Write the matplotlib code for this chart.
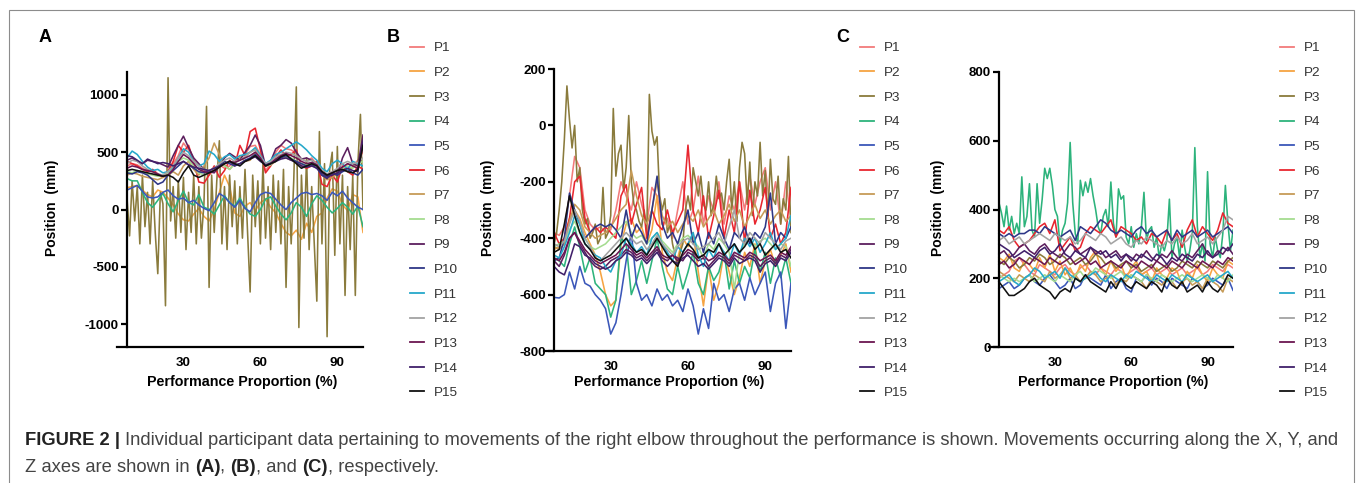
import numpy as np
import matplotlib
matplotlib.use("Agg")
import matplotlib.pyplot as plt
from matplotlib.lines import Line2D
from matplotlib.patches import Rectangle

plt.rcParams['font.family'] = ['Liberation Sans', 'DejaVu Sans']
plt.rcParams['axes.unicode_minus'] = False

# ---------------- data ----------------
labels = ["P%d" % i for i in range(1, 16)]
colors = ["#F27B7B", "#F6A442", "#8A7B3C", "#2DB37C", "#3B57B9", "#E8262F", "#C69B57",
          "#A5DC90", "#5C1F5E", "#2E3787", "#25A8CA", "#A3A3A3", "#6B1651", "#40206A", "#111111"]

x_ticks = [30, 60, 90]
a_yticks = [-1000, -500, 0, 500, 1000]
b_yticks = [-800, -600, -400, -200, 0, 200]
c_yticks = [0, 200, 400, 600, 800]

# Panel A (X axis), x = 8..100
a_p1 = [380,400,390,360,340,330,300,290,340,400,470,580,520,430,390,330,300,350,390,360,380,420,450,480,550,560,480,340,400,500,560,530,520,490,440,420,450,390,330,300,280,330,360,400,380,430,500]
a_p2 = [190,200,210,170,130,110,170,150,100,40,-40,-90,-100,-40,10,-60,-100,0,150,300,200,-30,-60,30,60,-10,60,90,20,-30,-120,-200,-230,-180,-260,-120,-200,-60,-30,100,180,160,40,-10,130,110,-200]
a_p3 = [100,-230,250,-100,200,-300,300,-150,150,-300,
        250,-200,-560,150,50,-840,1150,-100,200,-250,
        250,-200,280,-350,150,-200,300,-300,200,-250,
        50,900,-680,300,-200,250,600,-300,200,-350,
        300,-150,250,-300,200,-250,350,-200,-720,300,
        -150,250,-300,400,-250,200,-350,300,-200,250,
        -300,350,-680,200,-300,250,1070,-1030,300,-250,
        450,-350,200,-300,-800,680,-300,400,-1110,350,
        500,-400,550,-300,300,-750,200,-350,300,-750,
        400,830,0]
a_p4 = [270,250,250,150,60,20,80,140,50,-20,80,160,60,40,130,20,0,-40,40,120,60,30,100,20,-40,-60,0,90,110,30,-40,-90,-30,60,20,-60,50,120,80,20,-30,10,60,20,-40,30,-150]
a_p5 = [170,190,210,160,110,100,110,150,170,120,90,100,60,80,40,10,-10,60,140,110,60,20,80,10,-20,60,130,150,140,90,40,0,60,100,140,150,130,140,120,80,150,120,160,100,60,20,0]
a_p6 = [420,400,380,350,330,350,310,280,330,420,560,500,560,420,240,230,300,380,280,340,430,380,560,470,680,710,520,320,380,460,520,470,480,520,380,360,380,420,220,200,300,240,380,330,300,380,350]
a_p7 = [300,320,310,290,280,270,260,280,300,330,300,380,420,350,300,380,450,580,480,390,350,400,460,420,430,500,460,380,390,420,470,450,430,420,400,380,400,380,300,260,280,310,350,330,370,400,420]
a_p8 = [330,320,340,330,310,300,290,300,320,370,420,450,430,380,320,300,330,360,400,380,350,400,440,450,500,530,470,380,390,440,480,460,450,420,400,390,400,380,330,300,320,340,360,380,360,400,420]
a_p9 = [430,450,420,400,430,420,410,390,370,470,560,640,540,450,400,350,330,320,380,450,490,460,430,500,560,650,560,380,420,530,560,610,580,500,440,450,430,390,300,270,320,300,450,540,400,380,650]
a_p10 = [320,310,330,320,300,260,220,240,300,340,380,420,390,360,330,320,340,360,380,420,400,380,400,430,450,480,440,400,410,430,450,470,440,420,400,380,390,360,300,280,320,300,330,350,320,300,350]
a_p11 = [450,510,480,420,370,340,350,320,330,370,450,530,500,420,380,400,510,480,420,460,480,440,470,480,500,540,470,400,430,480,500,530,560,590,560,520,470,430,360,330,400,430,400,350,420,400,380]
a_p12 = [400,430,420,380,350,330,310,300,330,380,450,500,470,420,380,350,340,360,400,430,450,420,430,460,500,520,460,400,420,460,480,500,490,470,440,420,430,400,340,310,330,360,400,420,400,410,450]
a_p13 = [360,380,370,350,340,330,310,290,300,350,420,480,450,400,350,330,320,340,370,400,420,410,430,450,470,500,450,380,400,440,470,490,470,450,420,400,410,390,330,300,320,340,370,400,380,360,550]
a_p14 = [470,460,430,400,440,420,400,410,400,380,400,420,390,370,360,350,340,360,380,400,420,390,400,420,440,460,420,390,400,420,440,450,430,410,380,370,380,360,320,290,300,320,340,360,340,330,600]
a_p15 = [340,350,340,330,320,310,300,290,300,280,240,320,380,300,280,300,320,340,370,400,420,400,380,420,440,470,430,380,400,420,460,480,440,400,360,380,400,380,330,300,320,340,350,330,320,350,560]

# Panel B (Y axis)
b_p1 = [-380,-390,-360,-250,-110,-150,-300,-350,-370,-360,-380,-370,-300,-200,-250,-300,-200,-280,-350,-220,-250,-350,-330,-400,-300,-200,-350,-300,-180,-350,-250,-300,-200,-350,-250,-300,-200,-300,-180,-280,-200,-150,-300,-200,-350,-200,-330]
b_p2 = [-440,-430,-400,-330,-300,-330,-380,-420,-460,-520,-600,-640,-620,-420,-350,-330,-380,-360,-420,-370,-250,-450,-520,-550,-470,-400,-430,-380,-520,-640,-500,-620,-560,-450,-520,-600,-540,-450,-500,-420,-560,-480,-440,-500,-460,-420,-520]
b_p3 = [-420,-380,-300,-200,-50,140,20,-80,0,-200,
        -150,-300,-350,-330,-400,-380,-350,-420,-400,-220,
        -400,-380,-320,60,-180,-100,-70,-230,-150,35,
        -200,-280,-300,-340,-360,-300,-380,110,-20,-70,
        -40,-250,-300,-260,-380,-350,-420,-460,-500,-450,
        -420,-300,-250,-300,-150,-200,-250,-180,-280,-300,
        -200,-320,-280,-180,-260,-240,-300,-200,-120,-300,
        -200,-340,-150,-60,-100,-280,-130,-320,-200,-250,
        -60,-250,-160,-330,-120,-260,-280,-180,-350,-260,
        -300,-110,-380]
b_p4 = [-470,-480,-500,-420,-360,-430,-520,-470,-560,-580,-600,-680,-620,-400,-420,-600,-550,-480,-560,-480,-400,-500,-580,-600,-500,-580,-520,-450,-560,-600,-500,-550,-520,-450,-580,-480,-560,-500,-540,-440,-520,-450,-560,-470,-540,-470,-560]
b_p5 = [-610,-612,-600,-520,-580,-500,-560,-570,-600,-620,-650,-740,-700,-600,-480,-380,-560,-620,-600,-640,-580,-620,-600,-640,-620,-660,-580,-640,-740,-650,-720,-560,-620,-600,-660,-580,-560,-620,-540,-600,-560,-520,-660,-560,-520,-720,-560]
b_p6 = [-380,-420,-400,-330,-200,-180,-330,-380,-360,-380,-360,-380,-400,-250,-210,-350,-280,-220,-400,-300,-350,-370,-300,-380,-340,-300,-70,-300,-380,-250,-400,-320,-230,-400,-300,-380,-200,-420,-230,-350,-300,-220,-400,-350,-420,-380,-220]
b_p7 = [-430,-440,-420,-340,-280,-300,-360,-380,-400,-390,-380,-360,-330,-300,-280,-160,-250,-320,-350,-300,-200,-320,-360,-340,-380,-350,-320,-340,-300,-360,-330,-300,-350,-320,-280,-340,-300,-360,-320,-280,-330,-300,-350,-320,-300,-340,-320]
b_p8 = [-430,-420,-410,-370,-340,-380,-400,-430,-440,-430,-420,-400,-380,-360,-340,-380,-400,-390,-420,-400,-380,-410,-430,-450,-420,-400,-390,-410,-430,-470,-420,-440,-400,-420,-450,-580,-450,-420,-400,-430,-410,-400,-420,-440,-420,-430,-500]
b_p9 = [-480,-500,-460,-400,-380,-420,-450,-480,-500,-510,-500,-480,-470,-460,-440,-450,-470,-460,-480,-460,-440,-470,-480,-460,-470,-480,-450,-460,-480,-470,-500,-480,-460,-470,-490,-460,-470,-480,-460,-470,-500,-480,-470,-490,-460,-470,-440]
b_p10 = [-480,-470,-400,-240,-300,-350,-400,-380,-360,-350,-360,-350,-370,-400,-300,-400,-350,-380,-420,-300,-180,-350,-400,-380,-420,-360,-300,-420,-380,-450,-380,-420,-350,-400,-440,-380,-400,-360,-420,-380,-400,-360,-240,-420,-380,-400,-360]
b_p11 = [-460,-470,-430,-380,-320,-350,-420,-440,-460,-470,-500,-520,-480,-460,-400,-420,-450,-430,-460,-400,-380,-420,-450,-480,-430,-450,-420,-380,-460,-500,-440,-470,-420,-450,-480,-420,-460,-400,-430,-400,-450,-420,-380,-440,-420,-400,-320]
b_p12 = [-420,-430,-410,-350,-300,-340,-400,-430,-470,-480,-460,-440,-420,-400,-380,-400,-420,-410,-440,-420,-390,-420,-440,-460,-430,-410,-400,-420,-440,-430,-420,-400,-380,-420,-360,-300,-400,-420,-380,-400,-420,-380,-400,-420,-440,-410,-400]
b_p13 = [-470,-480,-450,-400,-380,-410,-440,-460,-480,-490,-480,-470,-460,-440,-420,-440,-460,-450,-470,-450,-430,-460,-470,-460,-480,-460,-440,-450,-470,-460,-480,-470,-450,-460,-480,-450,-460,-470,-450,-460,-480,-470,-460,-480,-450,-460,-430]
b_p14 = [-500,-520,-530,-480,-420,-430,-460,-470,-490,-500,-510,-500,-480,-470,-450,-460,-480,-470,-490,-470,-450,-480,-500,-480,-490,-470,-460,-480,-500,-490,-510,-490,-470,-480,-500,-470,-490,-480,-470,-480,-520,-490,-480,-500,-470,-480,-450]
b_p15 = [-450,-440,-350,-250,-320,-380,-420,-440,-470,-480,-470,-460,-440,-420,-400,-430,-450,-440,-460,-430,-400,-430,-460,-480,-500,-450,-420,-440,-470,-460,-440,-450,-420,-460,-440,-420,-450,-430,-400,-440,-420,-460,-440,-420,-450,-440,-470]

# Panel C (Z axis)
c_p1 = [200,210,220,250,260,240,220,210,240,230,220,210,230,240,220,210,230,240,220,210,230,220,210,230,220,210,220,230,210,220,230,210,220,230,210,220,230,210,220,230,210,220,240,230,220,240,230]
c_p2 = [260,250,270,230,220,250,240,220,260,230,270,220,250,210,230,200,240,220,260,280,230,210,250,220,240,200,230,250,210,220,190,230,210,200,230,220,180,220,200,240,210,190,230,210,200,250,240]
c_p3 = [250,240,260,250,230,240,260,250,270,260,240,250,270,260,240,250,260,240,250,270,260,240,250,230,240,250,230,240,220,230,240,220,230,240,220,230,250,240,230,250,240,230,250,240,230,250,260]
c_p4 = [420,390,350,410,340,380,330,360,330,495,
        350,380,475,340,320,475,360,430,520,490,
        520,470,400,380,300,340,360,420,595,420,
        330,300,485,440,480,450,490,440,400,350,
        330,380,400,350,480,360,320,460,430,440,
        320,300,350,290,330,300,350,450,310,340,
        350,290,320,260,300,280,310,430,260,300,
        320,260,340,290,250,280,330,580,350,260,
        300,250,510,300,260,320,280,260,330,470,
        360,280,340]
c_p5 = [170,180,190,170,180,200,210,190,180,200,210,190,170,180,200,170,180,210,200,190,180,210,170,190,200,170,160,200,190,210,180,200,190,170,200,190,180,170,200,190,170,180,200,190,180,200,165]
c_p6 = [340,330,350,310,290,300,310,330,350,360,330,370,280,300,320,280,290,330,350,340,330,350,370,320,350,340,330,310,320,300,330,320,300,340,310,330,290,340,370,320,350,330,310,340,390,360,350]
c_p7 = [220,210,200,190,210,200,190,210,200,190,220,200,210,230,200,210,190,200,220,210,190,200,210,180,200,190,210,200,190,170,200,190,180,200,190,170,190,200,180,190,170,200,190,180,160,200,190]
c_p8 = [210,200,190,200,190,200,210,190,200,210,200,190,210,200,190,210,220,200,210,230,220,210,200,210,220,200,210,200,190,210,200,190,210,200,190,200,210,200,190,200,210,200,190,210,200,190,210]
c_p9 = [270,280,260,270,290,300,280,270,290,300,280,270,260,280,300,290,270,280,290,270,280,260,270,280,260,270,250,270,260,280,260,250,270,260,280,260,250,270,260,280,300,270,260,280,270,290,270]
c_p10 = [330,320,330,320,330,330,340,340,330,350,340,330,320,330,340,310,350,340,330,350,370,360,340,330,340,330,320,340,350,330,340,320,330,340,310,340,320,330,340,320,330,340,320,330,340,350,330]
c_p11 = [190,200,210,190,180,200,210,230,220,200,210,220,200,230,210,200,190,200,210,220,200,190,210,200,190,210,200,220,210,200,190,210,200,190,210,200,190,210,200,190,200,210,190,200,210,220,200]
c_p12 = [310,320,300,310,320,300,310,320,330,320,310,330,320,310,320,300,310,330,320,310,330,320,300,310,320,300,290,310,300,320,310,300,290,310,300,320,300,310,330,300,310,320,300,320,340,380,370]
c_p13 = [240,250,230,240,260,250,240,260,250,240,260,250,240,250,260,240,250,260,240,250,230,240,250,240,230,250,240,230,250,240,230,250,240,230,250,240,230,250,240,230,250,240,230,250,240,260,250]
c_p14 = [300,290,280,260,270,280,270,260,280,290,270,280,300,270,260,280,270,260,290,280,270,280,260,270,250,270,260,250,270,260,250,270,260,240,260,250,270,260,250,270,260,280,260,270,290,280,300]
c_p15 = [190,170,150,150,160,170,190,200,180,170,160,140,160,170,160,200,190,210,190,180,170,160,190,170,200,180,170,190,180,170,190,180,160,200,180,170,190,160,170,180,160,190,170,160,180,210,200]

panel_a = [a_p1, a_p2, a_p3, a_p4, a_p5, a_p6, a_p7, a_p8, a_p9, a_p10, a_p11, a_p12, a_p13, a_p14, a_p15]
panel_b = [b_p1, b_p2, b_p3, b_p4, b_p5, b_p6, b_p7, b_p8, b_p9, b_p10, b_p11, b_p12, b_p13, b_p14, b_p15]
panel_c = [c_p1, c_p2, c_p3, c_p4, c_p5, c_p6, c_p7, c_p8, c_p9, c_p10, c_p11, c_p12, c_p13, c_p14, c_p15]

# ---------------- figure ----------------
W, H = 1357, 483
fig = plt.figure(figsize=(W / 100, H / 100), dpi=100)
fig.patch.set_facecolor("white")

def fx(px):
    return px / W

def fy(py):
    return 1 - py / H

def make_axes(left, top, right, bottom, series, ylim, yticks):
    ax = fig.add_axes([fx(left), fy(bottom), (right - left) / W, (bottom - top) / H])
    for vals, col in zip(series, colors):
        xs = np.linspace(8, 100, len(vals))
        ax.plot(xs, vals, color=col, lw=1.15, solid_joinstyle="round")
    ax.set_xlim(4.1, 100)
    ax.set_ylim(*ylim)
    ax.set_yticks(yticks)
    ax.set_xticks(x_ticks)
    for s in ("top", "right"):
        ax.spines[s].set_visible(False)
    ax.spines["left"].set_position(("data", 8))
    for s in ("left", "bottom"):
        ax.spines[s].set_linewidth(1.6)
    ax.tick_params(axis="y", length=4.5, width=1.6, pad=1.5, labelsize=9.6)
    ax.tick_params(axis="x", length=0, pad=7, labelsize=9.6)
    for lab in ax.get_xticklabels() + ax.get_yticklabels():
        lab.set_fontweight("bold")
    ax.patch.set_alpha(0)
    return ax

axA = make_axes(117, 72, 363, 347, panel_a, (-1200, 1200), a_yticks)
axB = make_axes(544, 69, 791, 351, panel_b, (-800, 200), b_yticks)
axC = make_axes(989, 72, 1233, 347, panel_c, (0, 800), c_yticks)

# axis labels
for xl, yl, xc in ((52, 208, 242), (488, 208, 669), (938, 208, 1113)):
    fig.text(fx(xl), fy(yl), "Position  (mm)", rotation=90, ha="center", va="center",
             fontsize=10, fontweight="bold")
    fig.text(fx(xc), fy(382), "Performance Proportion (%)", ha="center", va="center",
             fontsize=10.3, fontweight="bold")

# panel letters
for letter, lx in (("A", 45), ("B", 393), ("C", 843)):
    fig.text(fx(lx), fy(38), letter, ha="center", va="center", fontsize=13, fontweight="bold")

# legends
handles = [Line2D([0], [0], color=c, lw=1.3) for c in colors]
for lx in (410, 860, 1280):
    fig.legend(handles, labels, loc="upper left", bbox_to_anchor=(fx(lx), fy(42)),
               bbox_transform=fig.transFigure, frameon=False, fontsize=9.7,
               handlelength=1.04, handletextpad=0.74, labelspacing=0.905,
               borderpad=0, borderaxespad=0, labelcolor="#333333")

# frame
fig.patches.append(Rectangle((fx(9), -0.05), fx(1354) - fx(9), fy(10) + 0.05,
                             transform=fig.transFigure, fill=False,
                             edgecolor="#8c8c8c", lw=0.8))

# caption with mixed weights
renderer = fig.canvas.get_renderer()
cap_size = 13.25

def piece_width(s, weight):
    t1 = fig.text(0, 0, s + ".", fontsize=cap_size, fontweight=weight)
    t2 = fig.text(0, 0, ".", fontsize=cap_size, fontweight=weight)
    w = t1.get_window_extent(renderer).width - t2.get_window_extent(renderer).width
    t1.remove(); t2.remove()
    return w

def rich_line(x0, baseline, pieces):
    x = x0
    for s, weight, col in pieces:
        fig.text(fx(x), fy(baseline), s, fontsize=cap_size, fontweight=weight,
                 color=col, ha="left", va="baseline")
        x += piece_width(s, weight)

dark = "#222222"
grey = "#444444"
rich_line(25, 445, [("FIGURE 2 | ", "bold", dark),
                    ("Individual participant data pertaining to movements of the right elbow "
                     "throughout the performance is shown. Movements occurring along the X, Y, and",
                     "normal", grey)])
rich_line(25, 472, [("Z axes are shown in ", "normal", grey), ("(A)", "bold", dark),
                    (", ", "normal", grey), ("(B)", "bold", dark), (", and ", "normal", grey),
                    ("(C)", "bold", dark), (", respectively.", "normal", grey)])

fig.savefig("out.png", dpi=100)
